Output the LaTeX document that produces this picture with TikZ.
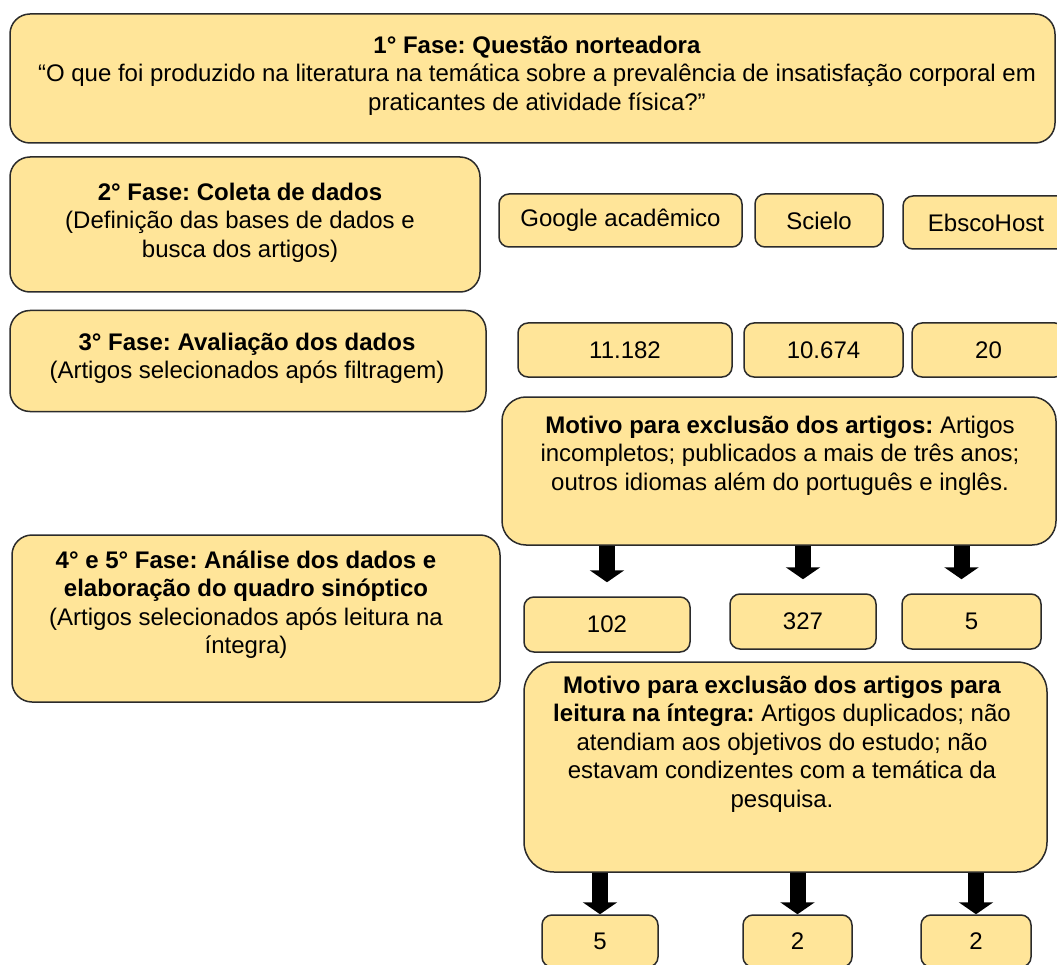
\documentclass[tikz,border=0pt]{standalone}
\usepackage{fontspec}
\setmainfont{Liberation Sans}
\frenchspacing
\usetikzlibrary{arrows.meta,positioning}
\definecolor{boxfill}{HTML}{FFE599}
\definecolor{boxline}{HTML}{2B2B2B}
\tikzset{
	phase/.style = {
			draw=boxline, fill=boxfill, line width=1.5pt,
			rounded corners=20pt, inner sep=0pt,
		},
	count/.style = {
			draw=boxline, fill=boxfill, line width=1.5pt,
			rounded corners=10pt, inner sep=0pt,
		},
	txt/.style = {anchor=north, align=center, inner sep=0pt},
	down/.style = {line width=16pt, -{Triangle[width=34pt,length=12pt]}},
}

\begin{document}
\begin{tikzpicture}[x=1pt, y=-1pt, font=\fontsize{24}{28.5}\selectfont]
	\useasboundingbox (0,0) rectangle (1057,965);
	\clip (0,0) rectangle (1057,965);

	% fases (coluna da esquerda)
	\node[phase, minimum width=1045pt, minimum height=129pt] (f1) at (532.5,78.5) {};
	\node[txt] (f1t) at (537,33) {\strut\textbf{1° Fase: Questão norteadora}\\“O que foi produzido na literatura na temática sobre a prevalência de insatisfação corporal em\\praticantes de atividade física?"};
	\node[phase, minimum width=470pt, minimum height=135pt] (f2) at (245,224.5) {};
	\node[txt] (f2t) at (240,180) {\strut\textbf{2° Fase: Coleta de dados}\\(Definição das bases de dados e\\busca dos artigos)};
	\node[phase, minimum width=476pt, minimum height=101pt] (f3) at (248,361) {};
	\node[txt] (f3t) at (247,330) {\strut\textbf{3° Fase: Avaliação dos dados}\\(Artigos selecionados após filtragem)};
	\node[phase, minimum width=488pt, minimum height=167pt] (f4) at (256,618.5) {};
	\node[txt] (f4t) at (246,548) {\strut\textbf{4° e 5° Fase: Análise dos dados e}\\\textbf{elaboração do quadro sinóptico}\\(Artigos selecionados após leitura na\\íntegra)};

	% bases de dados
	\node[count, minimum width=243pt, minimum height=53pt] (gscholar) at (620.5,220.5) {Google acadêmico};
	\node[count, minimum width=128pt, minimum height=53pt] (scielo) at (819,220.5) {Scielo};
	\node[count, minimum width=166pt, minimum height=53pt] (ebsco) at (986,222.5) {EbscoHost};

	% totais encontrados
	\node[count, minimum width=214pt, minimum height=54pt] (tot1) at (625,350) {11.182};
	\node[count, minimum width=159pt, minimum height=54pt] (tot2) at (823.5,350) {10.674};
	\node[count, minimum width=153pt, minimum height=54pt] (tot3) at (988.5,350) {20};

	% primeira exclusao
	\node[phase, rounded corners=24pt, minimum width=554pt, minimum height=148pt] (exc1) at (779,471) {};
	\node[txt] (exc1t) at (780,413) {\strut\textbf{Motivo para exclusão dos artigos:} Artigos\\incompletos; publicados a mais de três anos;\\outros idiomas além do português e inglês.};
	\node[count, minimum width=166pt, minimum height=55pt] (pre1) at (607,624.5) {102};
	\node[count, minimum width=146pt, minimum height=55pt] (pre2) at (803,621.5) {327};
	\node[count, minimum width=139pt, minimum height=55pt] (pre3) at (971.5,621.5) {5};

	% segunda exclusao
	\node[phase, rounded corners=30pt, minimum width=523pt, minimum height=210pt] (exc2) at (785.5,767) {};
	\node[txt] (exc2t) at (782,673) {\strut\textbf{Motivo para exclusão dos artigos para}\\\textbf{leitura na íntegra:} Artigos duplicados; não\\atendiam aos objetivos do estudo; não\\estavam condizentes com a temática da\\pesquisa.};
	\node[count, minimum width=116pt, minimum height=52pt] (fin1) at (600,941) {5};
	\node[count, minimum width=109pt, minimum height=52pt] (fin2) at (797.5,941) {2};
	\node[count, minimum width=110pt, minimum height=52pt] (fin3) at (976,941) {2};

	% setas
	\coordinate (a3) at ([xshift=-10pt]pre3.north);
	\foreach \b in {pre1,pre2,a3}
		\draw[down, shorten >=14pt] (exc1.south -| \b.north) -- (\b.north);
	\foreach \b in {fin1,fin2,fin3}
		\draw[down] (exc2.south -| \b.north) -- (\b.north);
\end{tikzpicture}
\end{document}
